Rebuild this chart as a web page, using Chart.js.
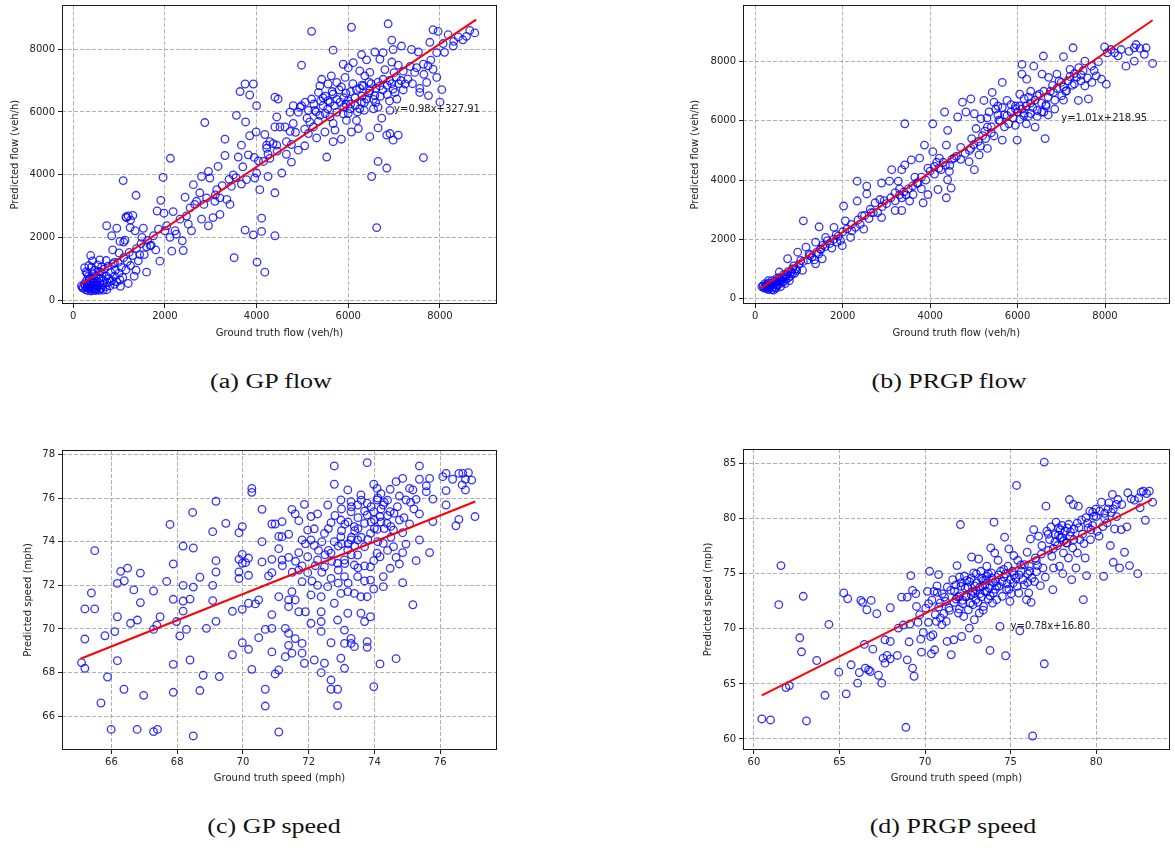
<!DOCTYPE html>
<html>
<head>
<meta charset="utf-8">
<script src="https://cdn.jsdelivr.net/npm/chart.js@4.4.1/dist/chart.umd.min.js"></script>
<style>
  body { margin: 0; background: #fff; width: 1175px; height: 848px; position: relative; overflow: hidden; }
  canvas { position: absolute; }
  .cap { position: absolute; width: 300px; text-align: center; font-family: "Liberation Serif", serif;
         font-size: 20px; line-height: 20px; color: #111; transform: scaleX(1.3); }
</style>
</head>
<body>
<canvas id="gpFlow" width="505" height="345" style="left:0;top:0"></canvas>
<canvas id="prgpFlow" width="495" height="345" style="left:680px;top:0"></canvas>
<canvas id="gpSpeed" width="505" height="350" style="left:0;top:440px"></canvas>
<canvas id="prgpSpeed" width="495" height="350" style="left:680px;top:440px"></canvas>
<div class="cap" style="left:121px;top:371px">(a) GP flow</div>
<div class="cap" style="left:799px;top:371px">(b) PRGP flow</div>
<div class="cap" style="left:124px;top:816px">(c) GP speed</div>
<div class="cap" style="left:803px;top:816px">(d) PRGP speed</div>
<script>
// tick labels
const flowTicks = [0, 2000, 4000, 6000, 8000];
const gpSpeedXTicks = [66, 68, 70, 72, 74, 76];
const gpSpeedYTicks = [66, 68, 70, 72, 74, 76, 78];
const prgpSpeedXTicks = [60, 65, 70, 75, 80];
const prgpSpeedYTicks = [60, 65, 70, 75, 80, 85];

// (ground truth, predicted) pairs
const gpFlowPoints = [
  [5200,8570],[6070,8700],[6870,8810],[5670,7970],[4980,7490],[7850,8620],[7960,8570],[8650,8600],[8760,8520],[8580,8410],
  [8180,8460],[8400,8390],[8290,8100],[8070,8180],[7780,8220],[7930,7890],[6950,8290],[7160,8100],[7380,7990],[7530,7910],
  [6980,7990],[6760,7890],[6580,7910],[6290,7830],[6400,7660],[6690,7680],[6950,7590],[7090,7490],[7640,7520],[7740,7470],
  [7850,7360],[7930,7100],[7710,6940],[8040,6710],[8000,6310],[7750,6520],[7560,6750],[7560,6620],[7450,7260],[7490,7410],
  [7240,6890],[7060,6410],[7020,6620],[6980,6730],[6910,6050],[6910,5310],[7090,5260],[6840,5260],[6980,5100],[7640,4540],
  [6840,4210],[6650,4420],[6510,3940],[6620,2310],[6470,5210],[6650,5490],[6730,5800],[6220,5470],[6070,5360],[5850,5130],
  [5670,5050],[5530,4560],[5490,5360],[5310,5170],[5130,5310],[5050,4920],[4910,4780],[4760,4960],[4760,4400],[4550,4050],
  [4440,4940],[4400,6470],[4470,6410],[4000,6200],[3640,6650],[3750,6890],[3930,6890],[3850,6540],[3560,5890],[3760,5680],
  [3850,5240],[3990,5360],[4180,5280],[2870,5660],[3310,5130],[3670,4940],[3820,4630],[3310,4610],[3600,4560],[4440,5840],
  [4400,5520],[4510,5520],[4220,4940],[4360,4990],[4290,4520],[4150,4420],[4000,4050],[4070,3520],[4250,3940],[4400,3420],
  [3750,2230],[4110,2610],[3930,2080],[4110,2190],[4400,2050],[3510,1350],[4010,1210],[4180,890],[2120,4520],[1960,3910],
  [1090,3810],[1370,3340],[1910,3180],[1830,2840],[1980,2770],[2180,2820],[1160,2630],[1200,2680],[730,2370],[950,2290],
  [840,2050],[1240,2310],[1350,2210],[1530,2290],[1860,2260],[2040,2370],[2220,2210],[2380,1890],[2580,2210],[2150,1560],
  [2400,1580],[1890,1240],[1600,890],[860,1600],[1020,1870],[1130,1910],[1370,950],[1200,530],[1030,440],[250,1030],
  [380,1420],[580,1280],[2440,3280],[2620,3680],[2800,3940],[2950,4100],[3160,4260],[2980,3890],[2760,3420],[2910,3260],
  [3090,3150],[3200,3260],[3350,3210],[3420,3050],[3450,3630],[3490,3990],[3670,3700],[3780,3840],[3960,3890],[3130,3520],
  [2690,3150],[2800,2580],[2950,2370],[3050,2630],[3200,2730],[2550,2940],[2330,2580],[2470,2680],[2510,2420],[2250,2100],
  [2110,2000],[2000,2210],[4040,4440],[4220,4840],[4290,5050],[4650,5050],[4730,5380],[4800,5630],[4620,5520],[4910,5990],
  [4950,6150],[5060,6310],[5200,6410],[5350,6620],[5420,7040],[5380,6830],[5560,6890],[5630,7150],[5750,6940],[5930,7100],
  [5890,7520],[6000,7410],[6110,7570],[6250,7310],[6360,7150],[6470,7260],[6180,6710],[6330,6830],[6470,6680],[6580,6520],
  [6690,6830],[6760,7040],[5670,6570],[5560,6360],[5450,6200],[5820,6310],[6000,6360],[6150,6200],[6290,6310],[6400,6410],
  [6040,6100],[5890,5940],[5750,5990],[5600,5840],[5380,5890],[5270,6050],[5960,5730],[6180,5730],[6250,6100],[6550,6100],
  [6650,6150],[5130,6050],[4980,6200],[4800,6200],[4730,5990],[5670,5630],[5710,5420],[5160,5680],[5240,5520],[5500,6500],
  [5800,6700],[6100,6900],[6300,6500],[6500,6900],[6700,6500],[6900,7000],[6200,6000],[5950,6600],[6050,6250],[6350,6050],
  [6450,6600],[6600,6750],[6850,6850],[7100,6900],[7200,7300],[7300,7050],[7000,7250],[6800,7350],[5700,6200],[5400,6350],
  [5300,6000],[5900,6450],[180,450],[220,380],[250,520],[270,330],[290,620],[300,400],[320,300],[330,760],
  [350,480],[360,350],[380,580],[390,290],[400,420],[410,870],[420,330],[440,540],[450,690],[460,380],
  [480,300],[490,480],[500,780],[510,350],[520,600],[540,420],[550,910],[560,310],[580,530],[600,700],
  [610,380],[630,850],[640,480],[660,620],[680,990],[700,420],[720,760],[740,560],[760,1080],[780,680],
  [800,450],[820,880],[850,620],[870,1150],[900,760],[920,950],[950,580],[980,1200],[1000,860],[1050,1040],
  [1080,720],[1100,1350],[1150,960],[1180,1230],[1220,1520],[1250,1100],[1300,1420],[1330,760],[1380,1640],[1420,1250],
  [1480,1800],[1550,1450],[1620,1900],[1680,1730],[1750,2050],[1800,1600],[300,850],[340,1100],[420,1250],[530,1120],
  [620,1060],[720,1260],[380,700],[460,560],[560,680],[650,320],[730,330],[810,600],[900,500],[1020,640],
  [260,450],[310,520],[370,400],[430,470],[470,340],[530,460],[590,340],[280,900],[400,1050],[200,400],
  [350,650],[470,950],[590,900],[1100,1850],[1250,2550],[1300,2700],[1150,2650],[1450,1450],[1500,2000],[1700,1750],
  [1000,1500],[900,1200],[1600,1700],[5100,5800],[5250,6250],[5350,5700],[5450,6450],[5550,6100],[5650,6650],[5750,6400],
  [5850,6800],[5950,6250],[6050,6650],[6150,6450],[6250,6750],[6350,6300],[6450,6950],[6550,6400],[6650,6950],[6750,6700],
  [6850,6550],[6950,6900],[7050,7100],[7150,7000],[7350,7450],[5050,5450],[4850,5350],[4650,4650],[4450,4750],[4250,4650],
  [3950,4550],[3700,4250],[3550,3900],[3400,3850],[3250,3650],[3100,3350],[2850,3050],[2650,3050],[5500,5950],[5600,6300],
  [5900,6150],[6000,5950],[6300,6850],[6600,6300],[6900,6350],[7200,6700],[7400,6900],[7650,7200],[7800,7650],[8100,7900],
  [8300,8250],[8500,8300]
];

const prgpFlowPoints = [
  [7990,8500],[8140,8410],[8370,8410],[8670,8470],[8710,8580],[8940,8470],[9090,7940],[8480,7850],[8670,8020],[8220,8300],
  [8030,7240],[7920,7410],[7800,7520],[7690,7850],[7540,8020],[7270,8470],[7050,8170],[6590,8190],[6370,7850],[6100,7910],
  [6100,7580],[6210,7410],[6560,7580],[6710,7470],[6900,7580],[7200,7740],[7350,7470],[7540,7180],[7620,6740],[7390,6690],
  [7120,7020],[7010,6850],[6820,6960],[6630,5400],[5990,5350],[6400,5790],[6140,6180],[5950,6410],[5760,6690],[5650,7300],
  [5420,6960],[5230,6690],[5460,6630],[5760,6180],[5570,6020],[5350,6300],[5160,6070],[5050,5740],[4930,6740],[4740,6630],
  [4820,6300],[4630,6130],[5010,6240],[5310,5790],[5270,5400],[5650,5350],[5460,5490],[5310,5070],[5120,4850],[4930,5070],
  [4890,4620],[5010,4350],[4550,4740],[4370,5180],[4400,5680],[4330,6300],[4060,5900],[3420,5900],[4060,4960],[3870,5180],
  [3760,4740],[4210,4740],[4100,4460],[4250,4350],[4440,4290],[4400,4010],[4480,3730],[4370,3400],[4180,3680],[3950,3510],
  [3840,3230],[3720,3900],[3570,4680],[3420,4510],[3350,4350],[3120,4350],[3270,3960],[3200,3570],[3350,3400],[3530,3290],
  [3610,3510],[3070,3960],[2890,3900],[2850,3340],[2740,3230],[2630,3010],[2440,2790],[2330,3290],[2330,3960],[2550,3790],
  [2550,3530],[2890,2730],[3200,2970],[3350,2970],[2290,2400],[2480,2340],[2210,2280],[2020,3120],[2180,2060],[1990,1780],
  [1870,1900],[1800,2400],[2060,2620],[1460,2420],[1100,2620],[1610,2060],[1380,1900],[1160,1730],[970,1560],[1040,1280],
  [1380,1170],[1530,1340],[1490,1670],[1230,1500],[1080,950],[930,1000],[740,1340],[850,840],[660,720],[550,890],
  [480,560],[150,400],[200,350],[250,450],[300,300],[350,500],[400,380],[450,600],[500,450],[550,700],
  [600,550],[650,800],[700,650],[750,900],[800,750],[850,1000],[900,850],[220,500],[280,400],[330,350],
  [380,600],[420,280],[480,350],[520,550],[580,400],[620,700],[680,500],[720,800],[780,600],[820,900],
  [880,1100],[950,950],[1000,1150],[1100,1250],[1200,1300],[1300,1400],[1400,1550],[1500,1650],[1600,1750],[1700,1850],
  [1800,2000],[1900,2100],[2000,2250],[2100,2350],[1250,1450],[1350,1300],[1450,1500],[1550,1800],[1650,1950],[1750,1700],
  [180,420],[260,330],[310,520],[360,420],[410,470],[460,380],[540,480],[590,620],[640,560],[700,760],
  [760,700],[300,600],[340,450],[440,520],[500,680],[560,600],[250,380],[380,300],[5600,6000],[5700,6200],
  [5800,5900],[5900,6100],[6000,6300],[6100,6400],[6200,6500],[6300,6600],[6400,6700],[6500,6900],[6600,7000],[6700,6800],
  [6800,7200],[6900,7100],[7000,7300],[7100,7000],[7200,7500],[7300,7600],[7400,7800],[7500,7700],[6050,6050],[6150,6250],
  [6250,6150],[6350,6450],[6450,6350],[6550,6600],[6650,6550],[5500,6400],[5400,5800],[5300,6100],[5200,5500],[5100,5300],
  [5000,5200],[4900,5000],[4800,4900],[4700,5100],[4600,4800],[4500,4700],[4300,4600],[4200,4400],[4100,4200],[4000,4300],
  [3900,4000],[3800,4100],[3700,3900],[3600,3800],[3500,3700],[3400,3600],[3300,3500],[3200,3300],[3100,3400],[3000,3200],
  [2900,3100],[2800,2900],[2700,2900],[2600,2700],[2500,2800],[2400,2500],[6050,6900],[6300,7000],[6600,6300],[6850,6400],
  [7050,6700],[7250,7200],[7450,7350],[7700,7300],[7850,8000],[8050,8300],[8300,8200],[8550,8350],[8800,8450],[8900,8250],
  [5850,6550],[5550,6500],[5950,5850],[6200,5900],[6450,6150],[6700,6200],[5550,6200],[5650,6450],[5850,6300],[6050,6500],
  [6150,6750],[6300,6250],[6450,6850],[6550,6300],[6750,7000],[6850,6700],[6950,7350],[7050,7150],[7150,7350],[7300,7250],
  [7450,7550],[7600,7450],[7750,7700],[5700,5800],[5950,6500],[6250,6800],[4700,4700],[4950,5400],[5150,5150],[5250,5650],
  [5400,5600],[3800,3700],[3650,4100],[3450,3500],[3300,3700],[2950,3300],[2650,2900],[2350,2650],[2200,2500],[1950,1950],
  [1850,2150],[4350,4500],[4150,4600],[4450,4500],[3950,4400],[6650,6500]
];

const gpSpeedPoints = [
  [65.09,68.46],[65.19,68.2],[65.19,69.54],[65.19,70.92],[65.49,70.92],[65.39,71.65],[65.49,73.59],[65.68,66.61],[65.8,69.69],[65.88,67.8],
  [65.99,65.4],[66.1,69.88],[66.18,70.56],[66.18,68.55],[66.18,72.09],[66.28,72.64],[66.39,72.21],[66.49,72.79],[66.38,67.24],[66.58,70.26],
  [66.68,71.79],[66.78,65.4],[66.79,70.41],[66.88,71.21],[66.88,72.56],[66.98,66.96],[67.28,71.74],[67.28,69.98],[67.28,65.3],[67.38,70.18],
  [67.4,65.4],[67.48,70.56],[67.68,72.18],[67.78,74.79],[67.88,72.98],[67.88,71.36],[67.88,68.38],[67.88,67.1],[67.98,70.34],[68.08,69.68],
  [68.18,73.8],[68.18,72.0],[68.18,71.28],[68.18,70.82],[68.28,69.98],[68.39,71.37],[68.39,68.58],[68.47,75.34],[68.49,73.71],[68.49,71.92],
  [68.49,65.1],[68.69,67.18],[68.69,72.37],[68.79,67.88],[68.89,70.03],[69.08,72.0],[69.08,71.3],[69.08,74.46],[69.18,73.13],[69.18,72.61],
  [69.18,70.35],[69.18,75.85],[69.28,67.82],[69.48,74.84],[69.68,68.82],[69.68,70.81],[69.88,74.41],[69.88,73.19],[69.88,72.61],[69.88,72.31],
  [69.98,74.69],[69.98,73.42],[69.98,73.01],[69.98,70.9],[69.98,69.37],[70.08,73.04],[70.17,69.07],[70.17,71.18],[70.17,72.46],[70.17,73.25],
  [70.27,76.44],[70.27,76.26],[70.27,68.15],[70.38,71.15],[70.48,71.33],[70.48,69.6],[70.58,75.48],[70.58,74.0],[70.58,73.07],[70.68,69.98],
  [70.68,67.24],[70.68,66.47],[70.78,72.43],[70.88,74.81],[70.88,73.19],[70.88,72.58],[70.88,70.66],[70.88,70.03],[70.88,68.95],[70.98,74.81],
  [70.98,67.94],[71.09,73.68],[71.09,74.24],[71.09,71.48],[71.09,68.12],[71.09,65.28],[71.19,74.23],[71.19,74.92],[71.19,73.16],[71.29,70.03],
  [71.29,68.73],[71.39,73.28],[71.39,71.02],[71.39,71.33],[71.39,69.25],[71.39,69.8],[71.39,74.34],[71.49,75.48],[71.49,68.89],[71.49,71.71],
  [71.59,75.27],[71.59,71.33],[71.59,69.56],[71.7,74.96],[71.7,73.5],[71.7,70.79],[71.8,74.08],[71.8,69.34],[71.8,68.89],[71.8,72.17],
  [71.8,72.89],[71.87,75.71],[71.87,68.43],[71.9,70.79],[71.97,74.53],[71.97,73.31],[71.97,72.58],[72.07,71.56],[72.07,70.26],[72.07,75.15],
  [72.07,74.08],[72.17,68.58],[72.17,73.83],[72.17,74.59],[72.27,75.27],[72.27,72.0],[72.27,73.16],[72.38,69.89],[72.38,70.34],[72.38,68.0],
  [72.38,71.48],[72.38,70.79],[72.48,68.43],[72.48,72.85],[72.48,74.38],[72.58,75.68],[72.58,71.94],[72.68,67.66],[72.68,67.24],[72.68,69.37],
  [72.68,74.87],[72.68,73.47],[72.68,72.32],[72.78,77.47],[72.78,76.63],[72.78,74.0],[72.78,71.18],[72.88,67.24],[72.88,66.49],[72.88,73.01],
  [72.88,70.41],[72.98,68.66],[72.98,75.91],[72.98,74.99],[72.98,74.23],[72.98,71.63],[73.09,69.95],[73.09,68.2],[73.09,69.34],[73.09,72.4],
  [73.09,73.16],[73.19,76.37],[73.19,73.62],[73.19,71.71],[73.19,70.72],[73.29,69.57],[73.29,69.34],[73.29,75.83],[73.29,75.37],[73.29,74.08],
  [73.39,69.19],[73.39,71.63],[73.39,72.93],[73.39,74.69],[73.49,72.4],[73.49,73.39],[73.49,75.68],[73.49,74.08],[73.59,70.72],[73.59,76.14],
  [73.59,71.48],[73.7,70.34],[73.7,74.84],[73.7,72.89],[73.7,73.77],[73.78,77.62],[73.78,69.42],[73.78,69.16],[73.78,71.48],[73.78,75.76],
  [73.78,75.22],[73.88,70.56],[73.88,72.85],[73.88,72.24],[73.88,74.38],[73.98,76.63],[73.98,67.36],[73.98,71.83],[73.98,73.13],[73.98,75.37],
  [74.08,76.44],[74.08,74.56],[74.08,73.47],[74.08,75.91],[74.17,68.4],[74.17,73.31],[74.17,75.15],[74.27,71.94],[74.27,72.4],[74.27,73.92],
  [74.27,75.68],[74.38,74.84],[74.48,76.4],[74.48,72.78],[74.48,75.37],[74.58,73.77],[74.58,74.53],[74.66,68.64],[74.66,73.28],[74.66,76.75],
  [74.76,72.98],[74.76,74.99],[74.76,76.09],[74.86,72.12],[74.86,73.5],[74.86,76.9],[74.86,74.41],[74.96,73.89],[74.96,75.91],[75.07,76.44],
  [75.07,74.81],[75.17,71.11],[75.17,76.37],[75.27,73.13],[75.27,75.94],[75.37,77.47],[75.37,76.86],[75.37,75.27],[75.37,74.08],[75.58,76.29],
  [75.58,76.56],[75.68,76.9],[75.68,73.5],[75.78,74.92],[75.78,75.95],[76.08,76.98],[76.18,77.13],[76.18,76.34],[76.18,75.68],[76.38,76.86],
  [76.48,74.73],[76.57,75.02],[76.57,77.13],[76.67,76.6],[76.69,77.13],[76.77,76.37],[76.77,76.86],[76.86,77.16],[76.96,76.82],[77.06,75.15],
  [73.3,75.6],[73.6,75.9],[74.2,75.5],[74.4,75.9],[74.0,75.0],[74.3,74.6],[73.9,74.9],[73.5,75.1],[73.2,74.9],[74.6,75.3],
  [74.1,76.0],[73.4,74.5],[73.0,74.5],[72.9,73.8],[73.2,73.9],[73.3,73.4],[73.1,73.0],[72.7,73.1],[72.9,72.7],[72.5,73.4],
  [73.0,73.9],[73.4,73.8],[73.6,74.2],[74.4,75.2],[74.2,76.2],[73.9,75.6],[74.5,74.2],[72.4,72.6],[72.2,72.9],[71.7,72.7],
  [72.1,72.2],[72.3,73.6],[72.6,74.6],[72.8,75.2],[73.0,75.5],[73.1,74.8],[73.3,74.2],[73.5,74.6],[73.7,75.4],[73.8,74.1],
  [74.0,74.6],[74.2,74.9],[74.3,75.8],[74.5,74.7],[74.7,75.6],[74.9,75.1],[75.1,75.8],[75.2,75.5],[72.6,73.6],[72.4,74.0],
  [71.9,73.9],[71.6,73.1],[71.5,72.6],[71.2,72.9],[73.5,72.8],[73.7,72.2],[73.2,72.1],[72.9,72.1],[74.1,74.0],[74.4,73.6]
];

const prgpSpeedPoints = [
  [60.46,61.82],[60.97,61.73],[61.58,75.75],[61.45,72.2],[61.87,64.67],[62.07,64.85],[62.68,69.19],[62.78,67.92],[62.88,72.96],[63.07,61.64],
  [63.67,67.13],[64.15,63.97],[64.38,70.41],[64.96,66.07],[65.25,73.26],[65.39,64.1],[65.48,72.74],[65.68,66.74],[66.06,65.07],[66.16,66.04],
  [66.25,72.59],[66.35,72.41],[66.45,68.59],[66.51,66.43],[66.6,71.74],[66.7,66.28],[66.8,66.13],[66.85,72.59],[66.95,68.16],[67.18,71.38],
  [67.28,65.79],[67.47,65.07],[67.55,67.34],[67.66,69.01],[67.66,66.89],[67.78,67.59],[67.97,68.86],[67.97,71.92],[67.97,67.28],[68.38,67.59],
  [68.44,70.07],[68.63,72.89],[68.73,70.35],[68.88,61.06],[68.96,72.89],[68.96,67.19],[69.07,68.83],[69.11,70.44],[69.17,74.84],[69.27,73.5],
  [69.27,66.43],[69.36,65.7],[69.46,73.2],[69.5,72.04],[69.59,70.59],[69.69,71.29],[69.75,69.07],[69.79,67.89],[69.9,69.68],[70.04,71.89],
  [70.14,73.41],[70.21,72.29],[70.27,75.23],[70.33,69.31],[70.37,67.74],[70.46,69.47],[70.52,73.41],[70.56,68.1],[70.66,70.68],[70.71,73.32],
  [70.79,74.93],[70.89,72.35],[70.98,70.38],[71.14,72.89],[71.24,70.68],[71.29,68.86],[71.43,71.68],[71.53,67.65],[71.62,74.47],[71.68,69.01],
  [71.72,73.41],[71.81,72.71],[71.87,75.75],[71.95,71.44],[72.01,74.71],[72.07,79.48],[72.1,73.87],[72.14,69.31],[72.2,72.29],[72.26,71.13],
  [72.34,73.71],[72.39,73.02],[72.45,74.41],[72.53,71.74],[72.59,70.07],[72.64,72.35],[72.72,76.53],[72.78,73.41],[72.84,75.08],[72.88,70.83],
  [72.97,72.65],[73.03,74.17],[73.07,69.07],[73.13,76.35],[73.17,71.44],[73.22,73.2],[73.26,75.23],[73.36,73.87],[73.42,72.04],[73.49,73.41],
  [73.55,74.47],[73.61,75.69],[73.69,72.71],[73.75,73.71],[73.8,68.04],[73.84,77.35],[73.88,75.08],[73.94,72.35],[74.0,73.26],[74.03,79.69],
  [74.07,76.9],[74.13,74.32],[74.19,72.65],[74.27,76.23],[74.32,73.87],[74.38,70.22],[74.42,75.23],[74.52,72.96],[74.61,74.71],[74.65,78.33],
  [74.71,67.56],[74.77,73.56],[74.85,75.69],[74.9,77.26],[74.96,72.5],[75.0,74.47],[75.04,73.2],[75.1,75.23],[75.15,74.17],[75.19,76.66],
  [75.29,74.62],[75.35,83.03],[75.39,73.87],[75.42,76.23],[75.48,73.26],[75.54,69.83],[75.62,75.23],[75.73,74.47],[75.81,75.84],[75.93,72.65],
  [75.97,76.96],[76.0,74.23],[76.06,73.26],[76.12,75.23],[76.16,78.17],[76.2,72.41],[76.25,74.62],[76.29,60.27],[76.35,79.02],[76.45,76.44],
  [76.51,75.2],[76.58,75.75],[76.64,78.42],[76.74,73.93],[76.83,77.57],[76.89,75.53],[76.97,85.15],[76.97,66.83],[77.03,74.71],[77.07,81.15],
  [77.12,78.87],[77.22,77.14],[77.28,78.11],[77.36,79.27],[77.41,76.6],[77.47,73.56],[77.51,75.53],[77.61,78.57],[77.66,79.69],[77.74,77.57],
  [77.8,79.17],[77.86,75.69],[77.9,78.26],[78.0,79.39],[78.05,75.02],[78.09,76.9],[78.19,78.87],[78.24,77.81],[78.32,79.17],[78.38,76.44],
  [78.44,81.75],[78.48,78.42],[78.57,74.47],[78.63,77.35],[78.67,81.3],[78.71,79.08],[78.82,75.53],[78.9,76.9],[78.96,81.15],[79.05,78.11],
  [79.15,79.9],[79.25,72.65],[79.29,77.75],[79.36,76.44],[79.44,74.84],[79.54,79.17],[79.63,80.69],[79.67,78.11],[79.79,79.39],[79.86,80.24],
  [79.98,80.88],[80.06,78.87],[80.17,78.42],[80.31,81.51],[80.44,74.78],[80.5,80.06],[80.64,79.63],[80.75,81.45],[80.83,77.57],[80.89,80.57],
  [80.95,82.21],[81.0,76.05],[81.08,79.08],[81.18,81.3],[81.27,81.75],[81.37,75.53],[81.47,79.02],[81.66,76.96],[81.8,79.27],[81.85,82.36],
  [81.95,75.75],[82.05,81.81],[82.24,81.69],[82.43,75.02],[82.49,81.9],[82.57,81.0],[82.63,82.42],[82.76,82.51],[82.88,79.87],[82.95,82.3],
  [83.11,82.51],[83.3,81.51],[71.5,73.5],[72.0,73.0],[72.5,73.8],[73.0,73.5],[73.5,74.0],[74.0,74.2],[72.2,72.6],[72.8,72.2],
  [73.3,72.9],[73.8,73.0],[74.3,74.9],[71.8,74.0],[72.3,74.8],[73.0,75.0],[73.6,74.8],[71.2,72.5],[71.0,73.2],[70.8,72.0],
  [72.6,74.3],[73.2,73.8],[74.6,75.4],[75.6,75.8],[76.0,75.0],[76.5,76.2],[77.5,77.3],[78.0,78.3],[78.5,78.8],[79.0,79.2],
  [79.5,79.6],[80.0,80.2],[80.5,80.5],[81.0,80.9],[81.5,81.3],[78.3,77.8],[77.8,78.5],[79.8,80.6],[71.9,72.9],[72.7,73.1],
  [73.4,74.4],[74.1,73.6],[74.8,74.1],[71.4,71.9],[70.6,71.3],[70.2,70.6],[72.9,73.9],[73.7,75.0],[71.3,73.8],[71.7,72.4],
  [72.1,74.2],[72.4,72.9],[72.7,74.6],[72.9,73.2],[73.1,72.4],[73.3,74.6],[73.6,73.4],[73.9,74.6],[74.2,73.9],[74.5,74.3],
  [74.7,75.0],[74.9,73.6],[75.2,74.9],[75.5,74.9],[75.8,74.0],[76.1,75.7],[76.4,74.3],[76.8,76.8],[77.2,78.6],[77.6,77.9],
  [77.9,79.0],[78.1,78.0],[78.4,79.5],[78.7,78.1],[78.9,79.6],[79.2,78.6],[79.4,80.1],[79.7,79.0],[80.2,80.7],[80.4,79.3],
  [80.7,80.9],[81.2,80.2],[71.1,71.4],[70.9,71.0],[70.4,72.6],[70.7,73.9],[72.0,71.8],[73.4,71.7]
];

// fitted lines: y = slope * x + intercept, drawn over the ground-truth span
const gpFlowFit = { slope: 0.98, intercept: 327.91, from: 170, to: 8790, label: 'y=0.98x+327.91', at: [7000, 6000] };
const prgpFlowFit = { slope: 1.01, intercept: 218.95, from: 120, to: 9090, label: 'y=1.01x+218.95', at: [7000, 6000] };
const gpSpeedFit = { slope: 0.60, intercept: 29.6, from: 65.06, to: 77.07, label: null, at: null };
const prgpSpeedFit = { slope: 0.78, intercept: 16.80, from: 60.46, to: 83.26, label: 'y=0.78x+16.80', at: [75, 70] };

const TEXT = '#222';
const FONT = { family: '"DejaVu Sans", sans-serif', size: 10 };

// frame round the plot area + fit equation text
const panelDecor = {
    id: 'panelDecor',
    afterDatasetsDraw(chart, args, opts) {
        if (!opts.label) return;
        const { ctx, scales } = chart;
        ctx.save();
        ctx.font = '10px "DejaVu Sans", sans-serif';
        ctx.fillStyle = TEXT;
        ctx.textBaseline = 'alphabetic';
        ctx.fillText(opts.label, scales.x.getPixelForValue(opts.at[0]), scales.y.getPixelForValue(opts.at[1]));
        ctx.restore();
    },
    afterDraw(chart) {
        const { ctx, chartArea: a } = chart;
        ctx.save();
        ctx.strokeStyle = '#1a1a1a';
        ctx.lineWidth = 1;
        ctx.strokeRect(Math.floor(a.left) + 0.5, Math.floor(a.top) + 0.5,
            Math.round(a.right - a.left) - 1, Math.round(a.bottom - a.top) - 1);
        ctx.restore();
    }
};

function axis(range, tickValues, title, isX, size, titlePad) {
    return {
        type: 'linear',
        min: range[0],
        max: range[1],
        afterBuildTicks: s => { s.ticks = tickValues.map(v => ({ value: v })); },
        afterFit: s => {
            if (isX) { s.height = size; s.paddingLeft = 0; s.paddingRight = 0; }
            else { s.width = size; s.paddingTop = 0; s.paddingBottom = 0; }
        },
        grid: { color: '#b0b0b0', lineWidth: 1, tickLength: 4, tickColor: TEXT, tickWidth: 1, tickBorderDash: [] },
        border: { display: false, dash: [4, 2] },
        ticks: {
            color: TEXT, font: FONT, padding: isX ? 2 : 3, maxRotation: 0, autoSkip: false,
            callback: v => String(v)
        },
        title: {
            display: true, text: title, color: TEXT, font: FONT,
            padding: isX ? { top: 0, bottom: 6 } : { top: titlePad, bottom: 0 }
        }
    };
}

function makePanel(p) {
    const fitLine = [p.fit.from, p.fit.to].map(x => ({ x: x, y: p.fit.slope * x + p.fit.intercept }));
    return new Chart(document.getElementById(p.id), {
        type: 'scatter',
        data: {
            datasets: [
                {
                    type: 'line', data: fitLine, borderColor: '#ff0000', borderWidth: 2,
                    pointRadius: 0, order: 0
                },
                {
                    data: p.points.map(d => ({ x: d[0], y: d[1] })),
                    pointRadius: 3.8, pointBorderWidth: 1.3,
                    borderColor: 'rgba(0,0,255,0.8)', backgroundColor: 'rgba(0,0,0,0)', order: 1
                }
            ]
        },
        options: {
            responsive: false,
            animation: false,
            layout: { padding: p.pad },
            plugins: {
                legend: { display: false },
                tooltip: { enabled: false },
                panelDecor: { label: p.fit.label, at: p.fit.at }
            },
            scales: {
                x: axis(p.xRange, p.xTicks, p.xTitle, true, p.xHeight),
                y: axis(p.yRange, p.yTicks, p.yTitle, false, p.yWidth, p.yTitlePad)
            }
        },
        plugins: [panelDecor]
    });
}

const panels = [
    {
        id: 'gpFlow', points: gpFlowPoints, fit: gpFlowFit, xTicks: flowTicks, yTicks: flowTicks,
        xRange: [-245, 9245], yRange: [-126, 9400],
        xTitle: 'Ground truth flow (veh/h)', yTitle: 'Predicted flow (veh/h)',
        pad: { top: 2, right: 8, left: 0, bottom: 0 }, yWidth: 62, xHeight: 41, yTitlePad: 9
    },
    {
        id: 'prgpFlow', points: prgpFlowPoints, fit: prgpFlowFit, xTicks: flowTicks, yTicks: flowTicks,
        xRange: [-281, 9480], yRange: [-190, 9906],
        xTitle: 'Ground truth flow (veh/h)', yTitle: 'Predicted flow (veh/h)',
        pad: { top: 2, right: 1, left: 0, bottom: 0 }, yWidth: 63, xHeight: 41, yTitlePad: 9
    },
    {
        id: 'gpSpeed', points: gpSpeedPoints, fit: gpSpeedFit, xTicks: gpSpeedXTicks, yTicks: gpSpeedYTicks,
        xRange: [64.495, 77.73], yRange: [64.456, 78.2],
        xTitle: 'Ground truth speed (mph)', yTitle: 'Predicted speed (mph)',
        pad: { top: 10, right: 8, left: 0, bottom: 0 }, yWidth: 62, xHeight: 40, yTitlePad: 22
    },
    {
        id: 'prgpSpeed', points: prgpSpeedPoints, fit: prgpSpeedFit, xTicks: prgpSpeedXTicks, yTicks: prgpSpeedYTicks,
        xRange: [59.36, 84.3], yRange: [59.0, 86.34],
        xTitle: 'Ground truth speed (mph)', yTitle: 'Predicted speed (mph)',
        pad: { top: 9, right: 1, left: 0, bottom: 0 }, yWidth: 63, xHeight: 40, yTitlePad: 22
    }
];

panels.forEach(makePanel);
</script>
</body>
</html>
